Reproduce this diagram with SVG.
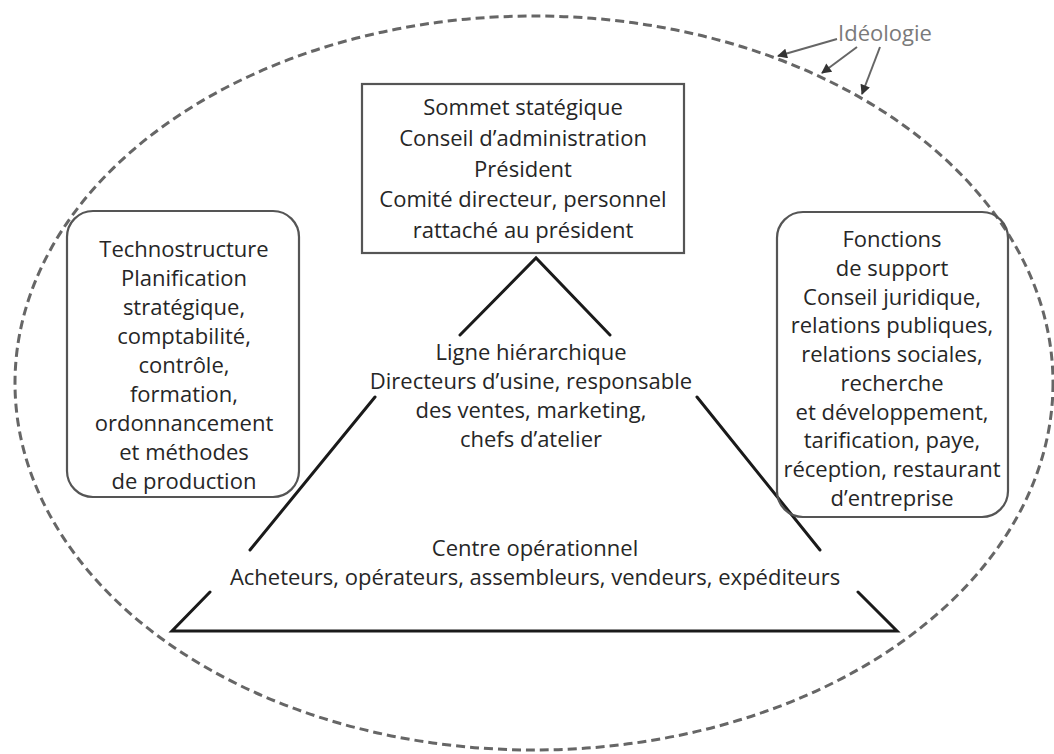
<svg xmlns="http://www.w3.org/2000/svg" width="1054" height="754" viewBox="0 0 1054 754">
  <style>
    .t { font-family: "Open Sans", "Noto Sans", sans-serif; font-size: 22px; font-weight: 500; fill: #262626; text-anchor: middle; dominant-baseline: central; }
    .box { fill: none; stroke: #555555; stroke-width: 2.2; }
    .pyr { fill: none; stroke: #1a1a1a; stroke-width: 3; stroke-linecap: round; }
    .ideo { fill: none; stroke: #666666; stroke-width: 2; }
  </style>
  <defs>
    <marker id="ah" viewBox="0 0 10 10" refX="9" refY="5" markerWidth="12" markerHeight="10" orient="auto" markerUnits="userSpaceOnUse">
      <path d="M0,0 L10,5 L0,10 z" fill="#333"/>
    </marker>
  </defs>

  <rect width="1054" height="754" fill="#ffffff"/>

  <!-- Ideology envelope -->
  <g id="ideologie">
    <ellipse cx="534" cy="383" rx="519" ry="367" fill="none" stroke="#666666" stroke-width="3" stroke-dasharray="9 5"/>
    <text class="t" x="885" y="32" style="fill:#7a7a7a">Idéologie</text>
  </g>

  <!-- Pyramid outline and pointers -->
  <g id="connectors">
    <polyline class="pyr" points="460,335 536,258 610,335"/>
    <line class="pyr" x1="375" y1="397" x2="250" y2="550"/>
    <line class="pyr" x1="697" y1="397" x2="820" y2="550"/>
    <polyline class="pyr" points="210,592 172,631 897,631 858,592"/>
    <line class="ideo" x1="837" y1="39" x2="778" y2="56" marker-end="url(#ah)"/>
    <line class="ideo" x1="857" y1="47" x2="822" y2="73" marker-end="url(#ah)"/>
    <line class="ideo" x1="880" y1="47" x2="862" y2="94" marker-end="url(#ah)"/>
  </g>

  <g id="sommet">
    <rect class="box" x="362" y="84" width="322" height="169"/>
    <text class="t" x="523" y="106">Sommet statégique</text>
    <text class="t" x="523" y="137">Conseil d’administration</text>
    <text class="t" x="523" y="168">Président</text>
    <text class="t" x="523" y="198">Comité directeur, personnel</text>
    <text class="t" x="523" y="229">rattaché au président</text>
  </g>

  <g id="technostructure">
    <rect class="box" x="67" y="211" width="232" height="286" rx="26"/>
    <text class="t" x="184" y="248">Technostructure</text>
    <text class="t" x="184" y="277">Planification</text>
    <text class="t" x="184" y="306">stratégique,</text>
    <text class="t" x="184" y="335">comptabilité,</text>
    <text class="t" x="184" y="364">contrôle,</text>
    <text class="t" x="184" y="393">formation,</text>
    <text class="t" x="184" y="422">ordonnancement</text>
    <text class="t" x="184" y="451">et méthodes</text>
    <text class="t" x="184" y="480">de production</text>
  </g>

  <g id="support">
    <rect class="box" x="777" y="212" width="231" height="305" rx="26"/>
    <text class="t" x="892" y="238">Fonctions</text>
    <text class="t" x="892" y="267">de support</text>
    <text class="t" x="892" y="296">Conseil juridique,</text>
    <text class="t" x="892" y="324">relations publiques,</text>
    <text class="t" x="892" y="353">relations sociales,</text>
    <text class="t" x="892" y="382">recherche</text>
    <text class="t" x="892" y="411">et développement,</text>
    <text class="t" x="892" y="439">tarification, paye,</text>
    <text class="t" x="892" y="468">réception, restaurant</text>
    <text class="t" x="892" y="497">d’entreprise</text>
  </g>

  <g id="ligne">
    <text class="t" x="531" y="351">Ligne hiérarchique</text>
    <text class="t" x="531" y="380">Directeurs d’usine, responsable</text>
    <text class="t" x="531" y="409">des ventes, marketing,</text>
    <text class="t" x="531" y="438">chefs d’atelier</text>
  </g>

  <g id="centre">
    <text class="t" x="535" y="547">Centre opérationnel</text>
    <text class="t" x="535" y="576">Acheteurs, opérateurs, assembleurs, vendeurs, expéditeurs</text>
  </g>
</svg>
